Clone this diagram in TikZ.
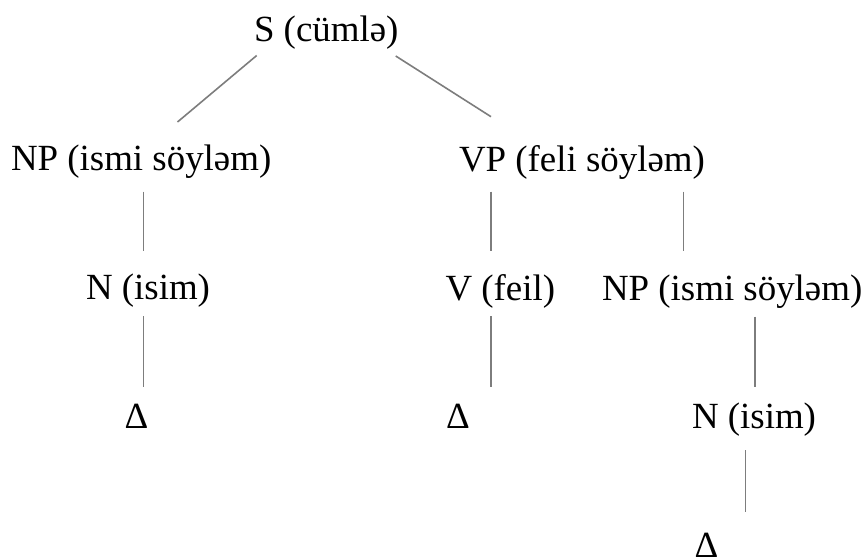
\documentclass[tikz,border=0pt]{standalone}
\usepackage{fontspec}
\setmainfont{Liberation Serif}
\begin{document}
\begin{tikzpicture}[x=0.5pt,y=-0.5pt,
  lbl/.style={anchor=base west,inner sep=0pt,outer sep=0pt,font=\fontsize{18.45}{22}\selectfont},
  edge/.style={draw={rgb,255:red,125;green,125;blue,125},line width=0.8pt}]
\useasboundingbox (0,0) rectangle (866,556);
% nodes
\node[lbl] (s)   at (254,41.7)  {S (cümlə)};
\node[lbl] (np1) at (11,170.5)  {NP (ismi söyləm)};
\node[lbl] (vp)  at (459,171)   {VP (feli söyləm)};
\node[lbl] (n1)  at (86,299.5)  {N (isim)};
\node[lbl] (v)   at (445.5,300) {V (feil)};
\node[lbl] (np2) at (602,300)   {NP (ismi söyləm)};
\node[lbl] (d1)  at (124.5,428) {Δ};
\node[lbl] (d2)  at (446,428)   {Δ};
\node[lbl] (n2)  at (692,428.5) {N (isim)};
\node[lbl] (d3)  at (694.5,557) {Δ};
% edge end points
\coordinate (s-l)   at (256.7,55.5);
\coordinate (s-r)   at (395.7,56);
\coordinate (np1-t) at (177.5,122);
\coordinate (vp-t)  at (491,116.7);
\coordinate (np1-b) at (143.3,191.7);
\coordinate (n1-t)  at (143.3,250.7);
\coordinate (vp-bl) at (490.7,191.7);
\coordinate (v-t)   at (490.7,250.7);
\coordinate (vp-br) at (683.3,191.7);
\coordinate (np2-t) at (683.3,250.7);
\coordinate (n1-b)  at (143.3,316);
\coordinate (d1-t)  at (143.3,386.7);
\coordinate (v-b)   at (491,316);
\coordinate (d2-t)  at (491,386.7);
\coordinate (np2-b) at (755,316.7);
\coordinate (n2-t)  at (755,386.7);
\coordinate (n2-b)  at (745.5,450);
\coordinate (d3-t)  at (745.5,511.7);
% edges
\draw[edge] (s-l) -- (np1-t);
\draw[edge] (s-r) -- (vp-t);
\draw[edge] (np1-b) -- (n1-t);
\draw[edge] (vp-bl) -- (v-t);
\draw[edge] (vp-br) -- (np2-t);
\draw[edge] (n1-b) -- (d1-t);
\draw[edge] (v-b) -- (d2-t);
\draw[edge] (np2-b) -- (n2-t);
\draw[edge] (n2-b) -- (d3-t);
\end{tikzpicture}
\end{document}
